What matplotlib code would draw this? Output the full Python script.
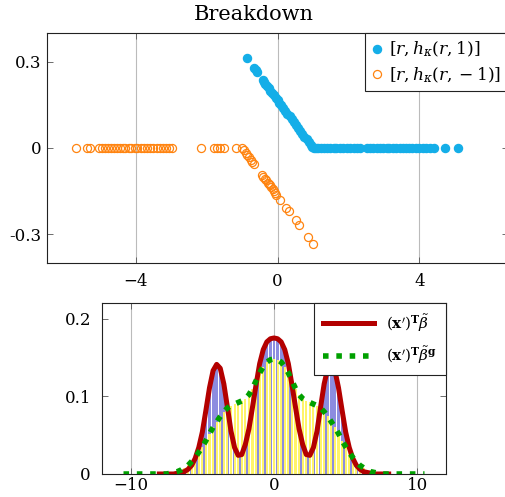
import numpy as np
import matplotlib
matplotlib.use("Agg")
import matplotlib.pyplot as plt

plt.rcParams['font.family'] = ['DejaVu Serif']
plt.rcParams['mathtext.fontset'] = 'dejavuserif'

# --- top panel: breakdown points ---
blue_r = [-0.87, -0.66, -0.62, -0.58, -0.42, -0.38, -0.34, -0.30, -0.25, -0.20,
          -0.15, -0.10, -0.05, 0.00, 0.05, 0.10, 0.16, 0.22, 0.28, 0.34,
          0.40, 0.46, 0.52, 0.58, 0.64, 0.70, 0.76, 0.82, 0.88, 0.94, 0.98,
          1.02, 1.08, 1.15, 1.22, 1.30, 1.40, 1.48, 1.58, 1.66, 1.75,
          1.85, 1.95, 2.05, 2.15, 2.25, 2.34, 2.53, 2.60, 2.70, 2.80,
          2.88, 2.98, 3.08, 3.15, 3.25, 3.35, 3.45, 3.55, 3.62, 3.72,
          3.80, 3.90, 4.00, 4.10, 4.20, 4.30, 4.41, 4.73, 5.10]
blue_h = [0.312, 0.277, 0.270, 0.263, 0.237, 0.230, 0.223, 0.217, 0.208, 0.200,
          0.192, 0.183, 0.175, 0.167, 0.158, 0.150, 0.140, 0.130, 0.120, 0.110,
          0.100, 0.090, 0.080, 0.070, 0.060, 0.050, 0.040, 0.030, 0.020, 0.010, 0.003,
          0, 0, 0, 0, 0, 0, 0, 0, 0, 0,
          0, 0, 0, 0, 0, 0, 0, 0, 0, 0,
          0, 0, 0, 0, 0, 0, 0, 0, 0, 0,
          0, 0, 0, 0, 0, 0, 0, 0, 0]

orange_r = [-5.69, -5.36, -5.29, -5.03, -4.95, -4.87, -4.79, -4.70, -4.62, -4.54,
            -4.45, -4.37, -4.29, -4.20, -4.12, -4.03, -3.95, -3.86, -3.77, -3.68,
            -3.59, -3.50, -3.41, -3.32, -3.23, -3.15, -3.06, -2.98, -2.17, -1.79,
            -1.72, -1.62, -1.50, -1.18, -1.00,
            -0.95, -0.90, -0.85, -0.81, -0.76, -0.72, -0.67, -0.43, -0.40, -0.36,
            -0.33, -0.28, -0.25, -0.22, -0.18, -0.14, -0.10, -0.06, -0.03, 0.08,
            0.25, 0.32, 0.51, 0.60, 0.85, 1.00]
orange_h = [0, 0, 0, 0, 0, 0, 0, 0, 0, 0,
            0, 0, 0, 0, 0, 0, 0, 0, 0, 0,
            0, 0, 0, 0, 0, 0, 0, 0, 0, 0,
            0, 0, 0, 0, 0,
            -0.008, -0.017, -0.025, -0.032, -0.040, -0.047, -0.055, -0.095, -0.100, -0.107,
            -0.112, -0.120, -0.125, -0.130, -0.137, -0.143, -0.150, -0.157, -0.162, -0.180,
            -0.208, -0.220, -0.252, -0.267, -0.308, -0.333]

# --- bottom panel: fitted densities ---
red_x = np.arange(-8, 8.01, 0.25)
red_y = [0, 0, 0, 0, 0, 0.001, 0.002, 0.003, 0.006, 0.011, 0.020, 0.034, 0.054,
         0.082, 0.111, 0.133, 0.141, 0.136, 0.116, 0.086, 0.055, 0.034, 0.024,
         0.025, 0.038, 0.058, 0.086, 0.115, 0.142, 0.160, 0.170, 0.174, 0.175,
         0.174, 0.170, 0.160, 0.142, 0.115, 0.086, 0.058, 0.038, 0.025, 0.024,
         0.034, 0.055, 0.086, 0.116, 0.136, 0.141, 0.133, 0.111, 0.082, 0.054,
         0.034, 0.020, 0.011, 0.006, 0.003, 0.002, 0.001, 0, 0, 0, 0, 0]

green_x = np.arange(-10.5, 10.51, 0.25)
green_y = [0, 0, 0, 0, 0, 0, 0, 0, 0, 0, 0, 0, 0,
           0.001, 0.002, 0.003, 0.005, 0.008, 0.011, 0.016, 0.021, 0.028, 0.035,
           0.043, 0.052, 0.060, 0.067, 0.074, 0.080, 0.085, 0.088, 0.090, 0.092,
           0.094, 0.097, 0.102, 0.110, 0.120, 0.130, 0.138, 0.144, 0.147, 0.148,
           0.147, 0.144, 0.138, 0.130, 0.120, 0.110, 0.102, 0.097, 0.094, 0.092,
           0.090, 0.088, 0.085, 0.080, 0.074, 0.067, 0.060, 0.052, 0.043, 0.035,
           0.028, 0.021, 0.016, 0.011, 0.008, 0.005, 0.003, 0.002, 0.001,
           0, 0, 0, 0, 0, 0, 0, 0, 0, 0, 0, 0, 0]

red_y = np.array(red_y)
green_y = np.array(green_y)

fig = plt.figure(figsize=(5.05, 4.97), dpi=100)
W, H = 505, 497

def box(l, t, r, b):
    return [l / W, 1 - b / H, (r - l) / W, (b - t) / H]

def style(ax):
    for s in ax.spines.values():
        s.set_color('#222222')
        s.set_linewidth(0.8)
    ax.tick_params(direction='in', length=4, width=0.6, color='#555555',
                   top=True, right=True, labelsize=12)
    ax.tick_params(axis='y', pad=4)
    ax.tick_params(axis='x', pad=7)
    ax.xaxis.grid(True, color='#bbbbbb', lw=0.8)
    ax.set_axisbelow(True)

ax1 = fig.add_axes(box(47, 33, 508, 263))
style(ax1)
ax1.plot(blue_r, blue_h, 'o', ls='none', ms=5.8, color='#14aee8', mec='#14aee8',
         label=r'$\left[r, h_{\kappa}(r, 1)\right]$', zorder=3)
ax1.plot(orange_r, orange_h, 'o', ls='none', ms=5.8, mfc='none', mec='#ff8410',
         mew=0.9, label=r'$\left[r, h_{\kappa}(r, -1)\right]$', zorder=3)
ax1.set_xlim(-6.5, 6.5)
ax1.set_ylim(-0.4, 0.4)
ax1.set_xticks([-4, 0, 4])
ax1.set_xticklabels(['\u22124', '0', '4'])
ax1.set_yticks([0.3, 0, -0.3])
ax1.set_yticklabels(['0.3', '0', '-0.3'])
leg1 = ax1.legend(loc='upper right', borderaxespad=0, fancybox=False,
                  edgecolor='#222222', fontsize=12.3, handlelength=0.6,
                  handletextpad=0.4, borderpad=0.4, labelspacing=0.35,
                  framealpha=1)
leg1.get_frame().set_linewidth(0.8)
fig.text(254 / W, 1 - 15 / H, 'Breakdown', ha='center', va='center', fontsize=15)

ax2 = fig.add_axes(box(102, 303, 446, 474))
style(ax2)
bar_r = np.abs(red_x) <= 6.5
bar_g = np.abs(green_x) <= 6.5
ax2.bar(red_x[bar_r], red_y[bar_r], width=0.2, color='#8c8ce0', zorder=1)
ax2.bar(green_x[bar_g], green_y[bar_g], width=0.15, color='#fff46a', zorder=2)
ax2.plot(red_x, red_y, color='#b30000', lw=3.6, zorder=3,
         label=r"$(\mathbf{x}')^{\mathbf{T}}\tilde{\beta}$")
ax2.plot(green_x, green_y, color='#00a000', lw=4.0, ls=(0, (1, 1.4)),
         zorder=4, label=r"$(\mathbf{x}')^{\mathbf{T}}\tilde{\beta}^{\mathbf{g}}$")
ax2.set_xlim(-12, 12)
ax2.set_ylim(0, 0.22)
ax2.set_xticks([-10, 0, 10])
ax2.set_xticklabels(['\u221210', '0', '10'])
ax2.set_yticks([0, 0.1, 0.2])
ax2.set_yticklabels(['0', '0.1', '0.2'])
ax2.tick_params(axis='y', pad=8)
ax2.tick_params(axis='x', pad=2)
leg2 = ax2.legend(loc='upper right', borderaxespad=0, fancybox=False,
                  edgecolor='#222222', fontsize=11, handlelength=3.3,
                  handletextpad=0.8, borderpad=0.6, labelspacing=0.7,
                  framealpha=1)
leg2.get_frame().set_linewidth(0.8)

fig.savefig('out.png', dpi=100)
